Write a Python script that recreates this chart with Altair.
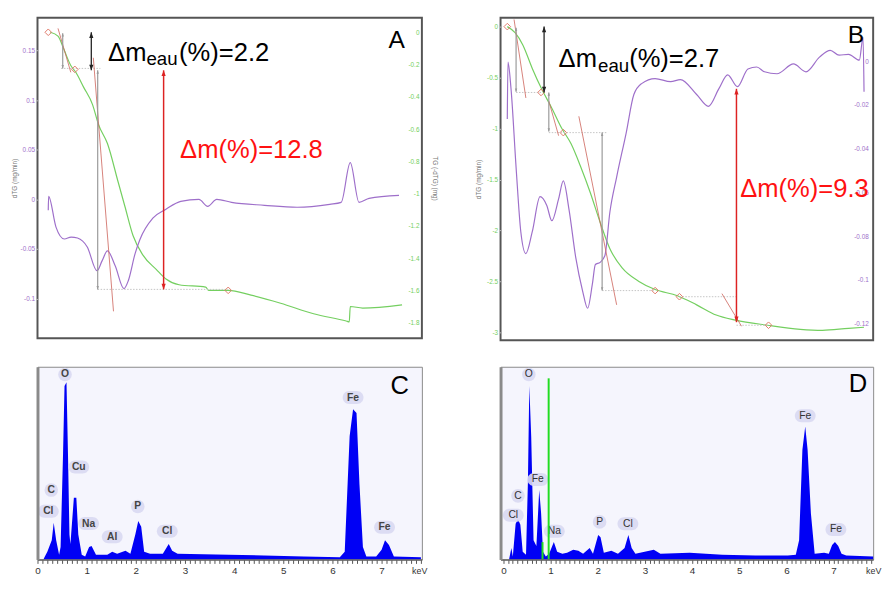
import altair as alt
import pandas as pd

FONT = "Liberation Sans"
PURPLE = "#9e6fca"
GREEN = "#74cf60"
TAN = "#cf6a62"
DIAM = "#e07a6a"
GRAYA = "#9a9a9a"
DOTC = "#c4c4c4"
BLUE = "#0000f5"
EDSBG = "#f5f5fd"

# ---------------- Panel A (TG / dTG) ----------------
a_tg_T = [38, 61, 79, 99, 114, 137, 164, 181, 208, 240, 260, 284, 313, 353, 382, 421,
          500, 509, 567, 635, 723, 821, 918, 927, 930, 967, 1084]
a_tg_v = [0.0, -0.024, -0.109, -0.206, -0.248, -0.34, -0.45, -0.57, -0.69, -0.93, -1.08,
          -1.26, -1.38, -1.47, -1.53, -1.565, -1.58, -1.60, -1.60, -1.63, -1.68, -1.745,
          -1.79, -1.795, -1.70, -1.71, -1.69]
a_dtg_T = [32, 33, 55, 80, 100, 119, 148, 177, 192, 208, 231, 257, 270, 290, 304, 343,
           382, 426, 480, 506, 533, 577, 675, 772, 869, 903, 930, 956, 986, 1075]
a_dtg_v = [-0.011, 0.003, -0.028, -0.040, -0.038, -0.039, -0.048, -0.072, -0.062, -0.052,
           -0.067, -0.090, -0.082, -0.055, -0.041, -0.019, -0.010, -0.002, 0.0, -0.007,
           0.0, -0.003, -0.006, -0.008, -0.005, -0.003, 0.037, -0.003, 0.001, 0.004]
a_x_ticks = [0, 200, 400, 600, 800, 1000]
a_left_ticks = [0.15, 0.1, 0.05, 0, -0.05, -0.1]
a_right_ticks = [0, -0.2, -0.4, -0.6, -0.8, -1, -1.2, -1.4, -1.6, -1.8]

a_diam_T = [32, 111, 567]
a_diam_v = [0.0, -0.23, -1.60]
a_garrow_T = [75, 179]
a_garrow_top = [-0.006, -0.236]
a_garrow_bot = [-0.224, -1.594]
a_dot_T1 = [70, 179]
a_dot_T2 = [187, 567]
a_dot_v = [-0.224, -1.594]
a_tan_T1 = [61, 166]
a_tan_v1 = [0.024, -0.158]
a_tan_T2 = [99, 226]
a_tan_v2 = [-0.248, -1.73]
a_black_T, a_black_top, a_black_bot = [160], [0.0], [-0.236]
a_red_T, a_red_top, a_red_bot = [375], [-0.236], [-1.594]
a_txt_T, a_txt_v, a_txt = [210, 421], [-0.176, -0.176], ["Δm", "(%)=2.2"]
a_sub_T, a_sub_v, a_sub = [324], [-0.205], ["eau"]
a_rtxt_T, a_rtxt_v, a_rtxt = [424], [-0.782], ["Δm(%)=12.8"]
a_let_T, a_let_v, a_let = [1044], [-0.097], ["A"]

# ---------------- Panel B (TG / dTG) ----------------
b_tg_T = [31, 54, 77, 105, 134, 163, 191, 220, 249, 277, 306, 335, 372, 421, 469, 535,
          592, 650, 707, 802, 899, 965, 1042, 1088]
b_tg_v = [0.0, -0.06, -0.18, -0.41, -0.62, -0.80, -0.99, -1.15, -1.38, -1.63, -1.92,
          -2.18, -2.37, -2.50, -2.58, -2.64, -2.73, -2.83, -2.88, -2.93, -2.97, -2.98,
          -2.96, -2.95]
b_dtg_T = [31, 33, 42, 57, 71, 86, 105, 128, 148, 163, 183, 197, 214, 234, 254, 269, 283,
           292, 306, 320, 335, 355, 383, 406, 429, 469, 515, 544, 592, 627, 658, 684, 713,
           744, 770, 793, 830, 879, 916, 956, 988, 1014, 1042, 1074, 1085, 1088]
b_dtg_v = [-0.0265, -0.0005, -0.0126, -0.0485, -0.078, -0.088, -0.078, -0.062, -0.066,
           -0.073, -0.063, -0.0548, -0.068, -0.090, -0.105, -0.113, -0.102, -0.093,
           -0.092, -0.089, -0.069, -0.053, -0.033, -0.0153, -0.0103, -0.008, -0.0094,
           -0.0085, -0.0153, -0.0207, -0.0126, -0.0063, -0.0117, -0.0036, -0.0027,
           -0.0049, -0.0058, -0.0013, -0.0049, 0.0018, 0.0049, 0.0027, 0.0031, 0.0004,
           0.0108, -0.014]
b_x_ticks = [200, 400, 600, 800, 1000]
b_left_ticks = [0, -0.5, -1, -1.5, -2, -2.5, -3]
b_right_ticks = [0, -0.02, -0.04, -0.06, -0.08, -0.1, -0.12]

b_diam_T = [31, 131, 197, 469, 541, 805]
b_diam_v = [0.0, -0.646, -1.04, -2.59, -2.65, -2.93]
b_garrow_T = [57, 154, 312]
b_garrow_top = [-0.01, -0.646, -1.04]
b_garrow_bot = [-0.64, -1.03, -2.59]
b_dot_T1 = [57, 154, 312, 541, 710]
b_dot_T2 = [131, 326, 469, 710, 805]
b_dot_v = [-0.646, -1.04, -2.59, -2.65, -2.93]
b_tan_T1 = [51, 154, 243, 667]
b_tan_v1 = [0.07, -0.73, -0.88, -2.62]
b_tan_T2 = [86, 183, 355, 725]
b_tan_v2 = [-0.70, -1.07, -2.73, -2.94]
b_black_T, b_black_top, b_black_bot = [140], [0.0], [-0.646]
b_red_T, b_red_top, b_red_bot = [710], [-0.61], [-2.90]
b_txt_T, b_txt_v, b_txt = [183, 392], [-0.396, -0.396], ["Δm", "(%)=2.7"]
b_sub_T, b_sub_v, b_sub = [300], [-0.45], ["eau"]
b_rtxt_T, b_rtxt_v, b_rtxt = [721], [-1.67], ["Δm(%)=9.3"]
b_let_T, b_let_v, b_let = [1040], [-0.164], ["B"]

# ---------------- Panel C (EDS) ----------------
c_k = [0.12, 0.15, 0.2, 0.29, 0.33, 0.38, 0.44, 0.47, 0.52, 0.55, 0.59, 0.62, 0.65, 0.67,
       0.74, 0.79, 0.83, 0.9, 0.97, 1.05, 1.1, 1.19, 1.42, 1.52, 1.62, 1.79, 1.89, 1.99,
       2.05, 2.11, 2.17, 2.29, 2.55, 2.67, 2.74, 2.85, 3.89, 5.42, 6.15, 6.25, 6.35, 6.42,
       6.49, 6.55, 6.62, 6.69, 6.89, 7.0, 7.07, 7.15, 7.25, 7.8]
c_h = [0, 1.5, 4, 10, 19, 10, 2.5, 6.5, 55, 90, 92, 55, 13, 8, 32, 32, 13, 2.5, 1.5, 6.5,
       7, 2.5, 2.5, 4, 3, 4.5, 3, 13, 20, 17, 4, 3, 3, 8, 4.5, 3, 2.5, 1.5, 1.2, 4, 64, 78,
       76, 39, 6.5, 1.5, 1.5, 5, 10, 7.5, 1.5, 1.2]
c_el = ["O", "Cu", "C", "Cl", "Na", "Al", "P", "Cl", "Fe", "Fe"]
c_lk = [0.56, 0.84, 0.28, 0.22, 1.04, 1.52, 2.04, 2.64, 6.42, 7.06]
c_lh = [96, 48, 36, 25, 18.6, 11.8, 27.5, 14.7, 84, 16.7]
c_ticks = [round(i * 0.1, 1) for i in range(0, 79)]
c_unit_k, c_unit = [7.62], ["keV"]
c_let_k, c_let_h, c_let = [7.18], [86], ["C"]

# ---------------- Panel D (EDS) ----------------
d_k = [0.12, 0.17, 0.2, 0.26, 0.31, 0.36, 0.41, 0.48, 0.52, 0.55, 0.59, 0.64, 0.7, 0.76,
       0.8, 0.84, 0.9, 0.97, 1.07, 1.14, 1.25, 1.35, 1.48, 1.59, 1.69, 1.83, 1.9, 2.01,
       2.06, 2.13, 2.29, 2.43, 2.57, 2.65, 2.72, 2.8, 3.19, 3.33, 3.95, 4.64, 5.34, 6.03,
       6.2, 6.27, 6.34, 6.4, 6.45, 6.52, 6.6, 6.8, 6.9, 6.97, 7.03, 7.1, 7.17, 7.27, 7.84]
d_h = [0, 6, 1.5, 18.5, 21, 18, 4, 2.5, 40, 90, 64, 10, 7, 36, 24, 4, 1.5, 3, 9, 4, 3,
       3.5, 5, 4.5, 3, 6, 3, 12.7, 11.5, 3.5, 4.5, 3, 6, 12.7, 6, 3, 5, 3, 3.5, 2.5, 2, 2,
       2.5, 10, 57, 69, 57, 24, 3, 3.5, 3, 7.5, 9, 7, 3, 2, 1.5]
d_el = ["O", "Fe", "C", "Cl", "Na", "P", "Cl", "Fe", "Fe"]
d_lk = [0.54, 0.73, 0.31, 0.21, 1.08, 2.04, 2.64, 6.4, 7.05]
d_lh = [96, 41.5, 33, 23, 14.6, 19.5, 18.5, 74.6, 15.6]
d_gk = [0.96, 0.83]
d_gh = [94, 9]
d_ticks = [round(i * 0.1, 1) for i in range(0, 79)]
d_unit_k, d_unit = [7.69], ["keV"]
d_let_k, d_let_h, d_let = [7.32], [87], ["D"]

UP = "M0,0L-0.55,1.5L0.55,1.5Z"
DOWN = "M0,0L-0.55,-1.5L0.55,-1.5Z"
PILL = "M-0.3,-0.5L0.3,-0.5A0.5,0.5 0 0 1 0.3,0.5L-0.3,0.5A0.5,0.5 0 0 1 -0.3,-0.5Z"


def qx(f, s):
    return alt.X(f, type="quantitative", scale=s, axis=None)


def qy(f, s):
    return alt.Y(f, type="quantitative", scale=s, axis=None)


def line_layer(xv, yv, xs, ys, color, xaxis=None, yaxis=None, width=1.2):
    d = pd.DataFrame({"x": xv, "y": yv})
    return alt.Chart(d).mark_line(color=color, strokeWidth=width, interpolate="monotone").encode(
        x=alt.X("x:Q", scale=xs, axis=xaxis), y=alt.Y("y:Q", scale=ys, axis=yaxis),
        order="x:Q")


def seg_layer(x1, y1, x2, y2, xs, ys, color, width, dash=None, opacity=1.0):
    d = pd.DataFrame({"x1": x1, "y1": y1, "x2": x2, "y2": y2})
    kw = dict(color=color, strokeWidth=width, opacity=opacity)
    if dash:
        kw["strokeDash"] = dash
    return alt.Chart(d).mark_rule(**kw).encode(
        x=qx("x1", xs), y=qy("y1", ys), x2="x2:Q", y2="y2:Q")


def arrow_layers(xv, top, bot, xs, ys, color, width, head):
    d = pd.DataFrame({"x": xv, "t": top, "b": bot})
    base = alt.Chart(d)
    return [
        base.mark_rule(color=color, strokeWidth=width).encode(x=qx("x", xs), y=qy("t", ys), y2="b:Q"),
        base.mark_point(shape=UP, filled=True, color=color, size=head, opacity=1, strokeWidth=0)
            .encode(x=qx("x", xs), y=qy("t", ys)),
        base.mark_point(shape=DOWN, filled=True, color=color, size=head, opacity=1, strokeWidth=0)
            .encode(x=qx("x", xs), y=qy("b", ys)),
    ]


def text_layer(xv, yv, tv, xs, ys, size, color, align="left", **kw):
    d = pd.DataFrame({"x": xv, "y": yv, "t": tv})
    return alt.Chart(d).mark_text(align=align, baseline="alphabetic", font=FONT, fontSize=size,
                                  color=color, **kw).encode(
        x=qx("x", xs), y=qy("y", ys), text="t:N")


def tg_panel(w, h, xdom, tgdom, dtgdom, tg_T, tg_v, dtg_T, dtg_v, xticks, tg_axis, dtg_axis,
             diam_T, diam_v, ga_T, ga_top, ga_bot, dot_T1, dot_T2, dot_v,
             tan_T1, tan_v1, tan_T2, tan_v2, bk, rd, txt, sub, rtxt, let):
    xs = alt.Scale(domain=xdom, nice=False, zero=False)
    ys_tg = alt.Scale(domain=tgdom, nice=False, zero=False)
    ys_dtg = alt.Scale(domain=dtgdom, nice=False, zero=False)
    xaxis = alt.Axis(values=xticks, title="Température de l'échantillon (°C)", labelColor="#888",
                     labelFontSize=6.5, tickSize=3, tickColor="#aaa", domain=False, grid=False,
                     titleFontSize=6.5, titleColor="#777", titleFontWeight="normal",
                     titlePadding=1, labelPadding=1, labelFlush=False, labelFont=FONT,
                     titleFont=FONT)
    layers = [
        line_layer(tg_T, tg_v, xs, ys_tg, GREEN, xaxis=xaxis, yaxis=tg_axis),
        line_layer(dtg_T, dtg_v, xs, ys_dtg, PURPLE, yaxis=dtg_axis),
        seg_layer(dot_T1, dot_v, dot_T2, dot_v, xs, ys_tg, DOTC, 1, dash=[1.5, 1.5]),
        seg_layer(tan_T1, tan_v1, tan_T2, tan_v2, xs, ys_tg, TAN, 1, opacity=0.85),
    ]
    layers += arrow_layers(ga_T, ga_top, ga_bot, xs, ys_tg, GRAYA, 1.2, 20)
    d = pd.DataFrame({"x": diam_T, "y": diam_v})
    layers.append(alt.Chart(d).mark_point(shape="diamond", filled=False, color=DIAM, size=45,
                                          strokeWidth=1, opacity=1).encode(
        x=qx("x", xs), y=qy("y", ys_tg)))
    layers += arrow_layers(bk[0], bk[1], bk[2], xs, ys_tg, "#222222", 1.3, 60)
    layers += arrow_layers(rd[0], rd[1], rd[2], xs, ys_tg, "#dd2222", 1.5, 60)
    layers.append(text_layer(txt[0], txt[1], txt[2], xs, ys_tg, 26, "#000000"))
    layers.append(text_layer(sub[0], sub[1], sub[2], xs, ys_tg, 19, "#000000"))
    layers.append(text_layer(rtxt[0], rtxt[1], rtxt[2], xs, ys_tg, 26, "#ff1111"))
    layers.append(text_layer(let[0], let[1], let[2], xs, ys_tg, 25, "#000000"))
    return alt.layer(*layers).resolve_scale(y="independent").properties(
        width=w, height=h,
        view=alt.ViewBackground(fill="white", stroke="#555555", strokeWidth=2))


def num_axis(orient, values, color, title=None, inside=0, tpad=4, ticks=True):
    kw = dict(orient=orient, values=values, labelExpr="toString(datum.value)",
              labelColor=color, labelFontSize=6.5, domain=False, grid=False,
              labelFont=FONT, titleFont=FONT)
    if inside:
        kw.update(ticks=False, labelAlign="right", labelPadding=-inside)
    else:
        kw.update(ticks=ticks, tickSize=2, tickColor="#bbb", labelPadding=1)
    if title:
        kw.update(title=title, titleFontSize=6.5, titleColor="#777", titleFontWeight="normal",
                  titlePadding=tpad)
    else:
        kw.update(title=None)
    return alt.Axis(**kw)


panelA = tg_panel(
    391, 326, [0, 1143], [-1.897, 0.09], [-0.14, 0.183],
    a_tg_T, a_tg_v, a_dtg_T, a_dtg_v, a_x_ticks,
    num_axis("right", a_right_ticks, GREEN, "TG (-dTG) (mg)", inside=3, tpad=10),
    num_axis("left", a_left_ticks, PURPLE, "dTG (mg/min)", tpad=3),
    a_diam_T, a_diam_v, a_garrow_T, a_garrow_top, a_garrow_bot, a_dot_T1, a_dot_T2, a_dot_v,
    a_tan_T1, a_tan_v1, a_tan_T2, a_tan_v2,
    (a_black_T, a_black_top, a_black_bot), (a_red_T, a_red_top, a_red_bot),
    (a_txt_T, a_txt_v, a_txt), (a_sub_T, a_sub_v, a_sub), (a_rtxt_T, a_rtxt_v, a_rtxt),
    (a_let_T, a_let_v, a_let))

panelB = tg_panel(
    379, 328, [11, 1115], [-3.077, 0.087], [-0.1276, 0.0198],
    b_tg_T, b_tg_v, b_dtg_T, b_dtg_v, b_x_ticks,
    num_axis("left", b_left_ticks, GREEN, "dTG (mg/min)", tpad=5),
    num_axis("right", b_right_ticks, PURPLE, None, inside=5),
    b_diam_T, b_diam_v, b_garrow_T, b_garrow_top, b_garrow_bot, b_dot_T1, b_dot_T2, b_dot_v,
    b_tan_T1, b_tan_v1, b_tan_T2, b_tan_v2,
    (b_black_T, b_black_top, b_black_bot), (b_red_T, b_red_top, b_red_bot),
    (b_txt_T, b_txt_v, b_txt), (b_sub_T, b_sub_v, b_sub), (b_rtxt_T, b_rtxt_v, b_rtxt),
    (b_let_T, b_let_v, b_let))


def eds_panel(w, h, xdom, k, hh, el, lk, lh, ticks, unit_k, unit, let, bold, green=None):
    xs = alt.Scale(domain=xdom, nice=False, zero=False)
    ys = alt.Scale(domain=[0, 100], nice=False, zero=False)
    xaxis = alt.Axis(values=ticks, orient="bottom",
                     labelExpr="abs(datum.value - round(datum.value)) < 0.001 ? toString(round(datum.value)) : ''",
                     labelOverlap=False, labelFlush=False, tickSize=4, tickColor="#555",
                     domainColor="#666", domainWidth=1.5, labelFontSize=10, labelColor="#333",
                     labelFont=FONT, title=None, grid=False, labelPadding=2, zindex=1)
    yaxis = alt.Axis(orient="left", labels=False, ticks=False, domain=True, domainColor="#8a8a8a",
                     domainWidth=3, grid=False, title=None, zindex=1)
    d = pd.DataFrame({"k": k, "h": hh})
    layers = [alt.Chart(d).mark_area(color=BLUE, opacity=1, interpolate="linear").encode(
        x=alt.X("k:Q", scale=xs, axis=xaxis), y=alt.Y("h:Q", scale=ys, axis=yaxis))]
    one = [i for i, e in enumerate(el) if len(e) == 1]
    two = [i for i, e in enumerate(el) if len(e) != 1]
    d1 = pd.DataFrame({"k": [lk[i] for i in one], "h": [lh[i] for i in one]})
    d2 = pd.DataFrame({"k": [lk[i] for i in two], "h": [lh[i] for i in two]})
    layers.append(alt.Chart(d1).mark_point(
        shape="circle", filled=True, color="#d9d9f2", size=190, opacity=0.9, strokeWidth=0)
        .encode(x=qx("k", xs), y=qy("h", ys)))
    layers.append(alt.Chart(d2).mark_point(
        shape=PILL, filled=True, color="#d9d9f2", size=700, opacity=0.9, strokeWidth=0)
        .encode(x=qx("k", xs), y=qy("h", ys)))
    ld = pd.DataFrame({"el": el, "k": lk, "h": lh})
    layers.append(alt.Chart(ld).mark_text(font=FONT, fontSize=10.5,
                                          fontWeight="bold" if bold else "normal",
                                          color="#444" if bold else "#333", baseline="middle",
                                          align="center").encode(
        x=qx("k", xs), y=qy("h", ys), text="el:N"))
    if green:
        gd = pd.DataFrame({"k": green[0], "h": green[1], "z": [0] * len(green[0])})
        layers.append(alt.Chart(gd).mark_rule(color="#22dd22", strokeWidth=2).encode(
            x=qx("k", xs), y=qy("h", ys), y2="z:Q"))
    ud = pd.DataFrame({"k": unit_k, "h": [0] * len(unit_k), "t": unit})
    layers.append(alt.Chart(ud).mark_text(font=FONT, fontSize=9, color="#333", align="left",
                                          baseline="top", dy=8).encode(
        x=qx("k", xs), y=qy("h", ys), text="t:N"))
    layers.append(text_layer(let[0], let[1], let[2], xs, ys, 26, "#000000"))
    return alt.layer(*layers).resolve_axis(x="independent", y="independent").properties(
        width=w, height=h,
        view=alt.ViewBackground(fill=EDSBG, stroke="#8a8a8a", strokeWidth=1))


panelC = eds_panel(391, 196, [0, 7.82], c_k, c_h, c_el, c_lk, c_lh, c_ticks, c_unit_k, c_unit,
                   (c_let_k, c_let_h, c_let), True)
panelD = eds_panel(379, 196, [-0.06, 7.84], d_k, d_h, d_el, d_lk, d_lh, d_ticks, d_unit_k,
                   d_unit, (d_let_k, d_let_h, d_let), False, green=(d_gk, d_gh))

chart = alt.concat(panelA, panelB, panelC, panelD, columns=2,
                   spacing={"row": 27, "column": 80}, bounds="flush", align="each").properties(
    padding={"left": 2, "top": 4, "right": 0, "bottom": 0}, background="white"
).configure(font=FONT)

chart.save("out.html", embed_options={"renderer": "svg", "actions": False})
